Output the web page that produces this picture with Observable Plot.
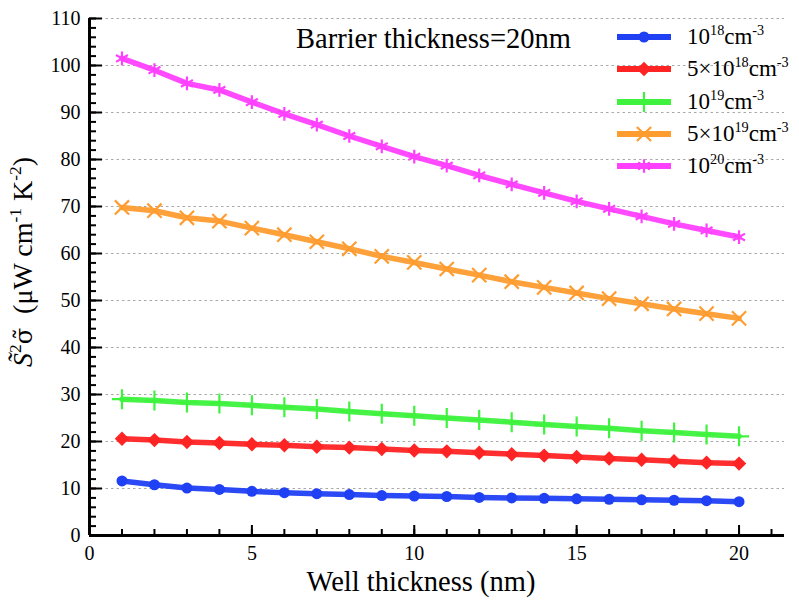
<!DOCTYPE html>
<html>
<head>
<meta charset="utf-8">
<script src="https://cdn.jsdelivr.net/npm/d3@7"></script>
<script src="https://cdn.jsdelivr.net/npm/@observablehq/plot@0.6"></script>
<style>
  html, body { margin: 0; padding: 0; background: #fff; }
  #wrap { position: relative; width: 799px; height: 602px; font-family: 'Liberation Serif', serif; color: #000; }
  #wrap svg { display: block; }
  .ov { position: absolute; white-space: nowrap; line-height: 1; font-family: 'Liberation Serif', serif; }
  sup { font-size: 0.62em; vertical-align: 0; position: relative; top: -0.62em; }
  .sig { font-family: 'DejaVu Serif', serif; font-size: 0.86em; }
  .leg { position: absolute; left: 615px; height: 22px; display: flex; align-items: center; font-size: 23px; font-family: 'Liberation Serif', serif; white-space: nowrap; }
  .leg svg { margin-right: 14px; flex: none; }
</style>
</head>
<body>
<div id="wrap"></div>
<script>
// ---- data ----
const wellThickness = [1,2,3,4,5,6,7,8,9,10,11,12,13,14,15,16,17,18,19,20];
const n1e18 = [11.6,10.8,10.1,9.8,9.4,9.1,8.9,8.7,8.5,8.4,8.3,8.1,8.0,7.9,7.8,7.7,7.6,7.5,7.4,7.2];
const n5e18 = [20.6,20.3,19.9,19.7,19.4,19.2,18.9,18.7,18.4,18.1,17.9,17.6,17.3,17.0,16.7,16.4,16.1,15.8,15.5,15.3];
const n1e19 = [29.0,28.7,28.3,28.1,27.7,27.3,26.9,26.4,25.9,25.5,25.0,24.6,24.1,23.6,23.2,22.8,22.3,21.9,21.5,21.1];
const n5e19 = [69.8,69.1,67.6,66.9,65.4,64.0,62.5,61.0,59.4,58.1,56.7,55.4,54.0,52.8,51.6,50.4,49.3,48.2,47.2,46.2];
const n1e20 = [101.5,99.0,96.2,94.8,92.2,89.7,87.4,85.0,82.8,80.6,78.7,76.6,74.7,72.9,71.1,69.5,67.9,66.3,64.9,63.5];
const seriesKeys = ["1e18","5e18","1e19","5e19","1e20"];
const seriesLabelsHTML = ["10<sup>18</sup>cm<sup>-3</sup>","5×10<sup>18</sup>cm<sup>-3</sup>","10<sup>19</sup>cm<sup>-3</sup>","5×10<sup>19</sup>cm<sup>-3</sup>","10<sup>20</sup>cm<sup>-3</sup>"];
const seriesValues = [n1e18, n5e18, n1e19, n5e19, n1e20];
const seriesColors = ["#2040f4","#ff2424","#3ef23e","#ff9c30","#ff40ff"];
const seriesSymbols = ["circle","diamond2","plus","times","asterisk"];
const xTickLabels = [0,5,10,15,20];
const xMinorTicks = d3.range(0,22,1);
const yTickLabels = d3.range(0,111,10);
const yMinorTicks = d3.range(0,111,2);
const title = "Barrier thickness=20nm";
const xLabel = "Well thickness (nm)";

// ---- table ----
const rows = [];
seriesKeys.forEach((k, i) => wellThickness.forEach((w, j) => rows.push({series: k, x: w, y: seriesValues[i][j]})));

const W = 799, H = 602, mL = 89, mR = 15, mT = 18, mB = 67;
const fw = W - mL - mR, fh = H - mT - mB;
const FONT = "'Liberation Serif', serif";

const dotMarks = seriesKeys.map((k, i) => {
  const filled = seriesSymbols[i] === "circle" || seriesSymbols[i] === "diamond2";
  return Plot.dot(rows.filter(d => d.series === k), {
    x: "x", y: "y",
    symbol: () => seriesSymbols[i],
    r: seriesSymbols[i] === "circle" ? 5.5 : 6.5,
    fill: filled ? seriesColors[i] : "none",
    stroke: seriesColors[i],
    strokeWidth: filled ? 0 : 2.2
  });
});

const chart = Plot.plot({
  width: W, height: H,
  marginLeft: mL, marginRight: mR, marginTop: mT, marginBottom: mB,
  style: {fontFamily: FONT, background: "#fff", color: "#000"},
  x: {domain: [0, 21.4], axis: null},
  y: {domain: [0, 110], axis: null},
  symbol: {domain: seriesSymbols, range: seriesSymbols},
  marks: [
    Plot.gridY(yTickLabels.filter(v => v > 0), {stroke: "#a8a8a8", strokeOpacity: 1, strokeDasharray: "2.5,3", strokeWidth: 1}),
    // y ticks (inward)
    Plot.tickY(yMinorTicks, {y: d => d, stroke: "#000", strokeWidth: 2, insetRight: fw - 7}),
    Plot.tickY(yTickLabels, {y: d => d, stroke: "#000", strokeWidth: 2, insetRight: fw - 13}),
    // x ticks (inward)
    Plot.tickX(xMinorTicks, {x: d => d, stroke: "#000", strokeWidth: 2, insetTop: fh - 6}),
    Plot.tickX(xTickLabels, {x: d => d, stroke: "#000", strokeWidth: 2, insetTop: fh - 10}),
    Plot.axisY(yTickLabels, {tickSize: 0, tickPadding: 9, fontSize: 20, fill: "#000", label: null}),
    Plot.axisX(xTickLabels, {tickSize: 0, tickPadding: 10, fontSize: 20, fill: "#000", label: null}),
    Plot.ruleY([0], {stroke: "#000", strokeWidth: 3}),
    Plot.ruleX([0], {stroke: "#000", strokeWidth: 3}),
    Plot.line(rows, {x: "x", y: "y", z: "series", stroke: d => seriesColors[seriesKeys.indexOf(d.series)], strokeWidth: 5.5, strokeOpacity: 0.95}),
    ...dotMarks
  ]
});

const wrap = document.getElementById("wrap");
wrap.appendChild(chart);

// title
const t = document.createElement("div");
t.className = "ov";
t.style.left = "296px"; t.style.top = "25px"; t.style.fontSize = "28.5px";
t.textContent = title;
wrap.appendChild(t);

// x label
const xl = document.createElement("div");
xl.className = "ov";
xl.style.left = "0px"; xl.style.width = "842px"; xl.style.textAlign = "center";
xl.style.top = "568px"; xl.style.fontSize = "28.5px";
xl.textContent = xLabel;
wrap.appendChild(xl);

// y label
const yl = document.createElement("div");
yl.className = "ov";
yl.style.left = "23px"; yl.style.top = "262px"; yl.style.fontSize = "28px";
yl.style.transform = "translate(-50%,-50%) rotate(-90deg)";
yl.innerHTML = "<i>S\u0303</i><sup>2</sup><span class='sig'>σ\u0303</span>&nbsp; (μW cm<sup>-1</sup> K<sup>-2</sup>)";
wrap.appendChild(yl);

// legend
seriesKeys.forEach((k, i) => {
  const row = document.createElement("div");
  row.className = "leg";
  row.style.top = (26 + 32.3 * i) + "px";
  const sv = d3.create("svg").attr("width", 58).attr("height", 22);
  sv.append("line").attr("x1", 2).attr("x2", 56).attr("y1", 11).attr("y2", 11)
    .attr("stroke", seriesColors[i]).attr("stroke-width", 6);
  const sym = {circle: d3.symbolCircle, diamond2: d3.symbolDiamond2, plus: d3.symbolPlus, times: d3.symbolTimes, asterisk: d3.symbolAsterisk}[seriesSymbols[i]];
  const filled = seriesSymbols[i] === "circle" || seriesSymbols[i] === "diamond2";
  const rr = seriesSymbols[i] === "circle" ? 5.5 : 6.5;
  sv.append("path").attr("transform", "translate(29,11)")
    .attr("d", d3.symbol(sym, rr * rr * Math.PI)())
    .attr("fill", filled ? seriesColors[i] : "none")
    .attr("stroke", seriesColors[i]).attr("stroke-width", filled ? 0 : 2.2);
  row.appendChild(sv.node());
  const lab = document.createElement("span");
  lab.innerHTML = seriesLabelsHTML[i];
  row.appendChild(lab);
  wrap.appendChild(row);
});
</script>
</body>
</html>
